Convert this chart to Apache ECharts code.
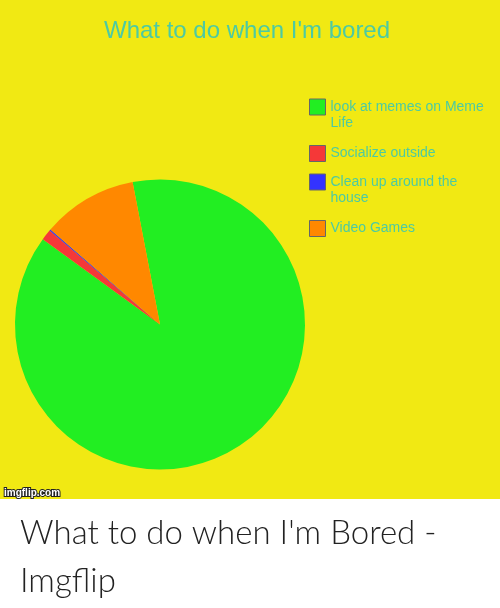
<!DOCTYPE html>
<html>
<head>
<meta charset="utf-8">
<script src="https://cdn.jsdelivr.net/npm/echarts@6/dist/echarts.min.js"></script>
<style>
  html, body { margin: 0; padding: 0; background: #fff; }
  #chart { width: 500px; height: 608px; }
</style>
</head>
<body>
<div id="chart"></div>
<script>
// ---- data ----
var chartTitle = "What to do when I'm bored";
var categories = ["look at memes on Meme Life", "Socialize outside", "Clean up around the house", "Video Games"];
var legendLabels = ["look at memes on Meme\nLife", "Socialize outside", "Clean up around the\nhouse", "Video Games"];
var values = [88.0, 1.2, 0.15, 10.6];
var colors = ["#22ee22", "#f53838", "#3333ff", "#ff8800"];
var captionLines = ["What to do when I'm Bored -", "Imgflip"];
var watermark = "imgflip.com";

var chart = echarts.init(document.getElementById('chart'), null, { renderer: 'canvas' });

var textColor = '#4dcaa2';
var legendTops = [99, 145, 174, 220];
var legends = categories.map(function (name, i) {
  var twoLine = legendLabels[i].indexOf('\n') >= 0;
  return {
    orient: 'vertical',
    left: 309,
    top: twoLine ? legendTops[i] - 16 : legendTops[i],
    padding: 0,
    itemWidth: 16,
    itemHeight: 16,
    icon: 'rect',
    selectedMode: false,
    itemStyle: { borderColor: '#666', borderWidth: 1 },
    data: [name],
    formatter: function (n) {
      var lbl = legendLabels[categories.indexOf(n)];
      // blank first line keeps the first text line level with the swatch
      return lbl.indexOf('\n') >= 0 ? ' \n' + lbl : lbl;
    },
    textStyle: {
      color: textColor,
      fontFamily: 'Liberation Sans, Arial, sans-serif',
      fontSize: 14,
      lineHeight: 16
    }
  };
});

var option = {
  backgroundColor: '#ffffff',
  animation: false,
  color: colors,
  title: {
    text: chartTitle,
    left: 104,
    top: 19,
    padding: 0,
    textStyle: {
      color: textColor,
      fontFamily: 'Liberation Sans, Arial, sans-serif',
      fontSize: 24,
      fontWeight: 'normal'
    }
  },
  legend: legends,
  graphic: [
    { type: 'rect', left: 0, top: 0, z: -10, silent: true,
      shape: { width: 500, height: 499 }, style: { fill: '#f1e913' } },
    { type: 'text', left: 3, top: 487, z: 10, silent: true,
      style: { text: watermark, fill: '#ffffff', stroke: '#222', lineWidth: 2,
               font: 'bold 10px Liberation Sans, Arial, sans-serif' } },
    { type: 'text', left: 20, top: 517, z: 10, silent: true,
      style: { text: captionLines[0], fill: '#222',
               font: '300 33px Lato, Inter, sans-serif' } },
    { type: 'text', left: 20, top: 565, z: 10, silent: true,
      style: { text: captionLines[1], fill: '#222',
               font: '300 33px Lato, Inter, sans-serif' } }
  ],
  series: [{
    type: 'pie',
    center: [160, 324.5],
    radius: 145,
    startAngle: 100.9,
    clockwise: true,
    avoidLabelOverlap: false,
    label: { show: false },
    labelLine: { show: false },
    emphasis: { disabled: true },
    itemStyle: { borderWidth: 0 },
    data: categories.map(function (c, i) {
      return { name: c, value: values[i], itemStyle: { color: colors[i] } };
    })
  }]
};
chart.setOption(option);
</script>
</body>
</html>
